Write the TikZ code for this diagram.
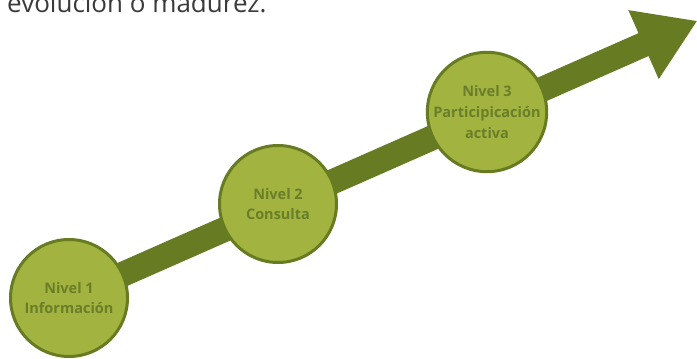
\documentclass[tikz,border=0pt]{standalone}
\usepackage{fontspec}
\setmainfont{Open Sans}
\usetikzlibrary{arrows.meta}
\definecolor{olivedark}{HTML}{667B22}
\definecolor{olivelight}{HTML}{A2B43F}
\definecolor{olivetext}{HTML}{6A7E2A}
\definecolor{greytext}{HTML}{3A3A3A}
\tikzset{
  levelarrow/.style={
    draw=olivedark, line width=25pt,
    -{Triangle[width=71pt, length=59pt]}
  },
  levelnode/.style={
    circle, draw=olivedark, fill=olivelight, line width=3pt,
    minimum size=117pt, inner sep=0pt, align=center,
    text=olivetext, font=\fontsize{14.5}{20.7}\selectfont\bfseries
  }
}

\begin{document}
\begin{tikzpicture}[x=1pt, y=1pt]
    \useasboundingbox (0,0) rectangle (697,359);
    \clip (0,0) rectangle (697,359);

    % Caption cut off at the top
    \node[anchor=base west, inner sep=0pt, text=greytext,
          font=\fontsize{26}{31}\selectfont] (caption) at (7,346.5) {evolución o madurez.};

    % Arrow from the first level up to the right
    \coordinate (start) at (69,61);
    \coordinate (tip) at (697.5,338.2);
    \draw[levelarrow] (start) -- (tip);

    % Levels
    \node[levelnode] (L1) at (69,61) {Nivel 1\\Información};
    \node[levelnode] (L2) at (278,155) {Nivel 2\\Consulta};
    \node[levelnode] (L3) at (487,247) {Nivel 3\\Participicación\\activa};

\end{tikzpicture}
\end{document}
